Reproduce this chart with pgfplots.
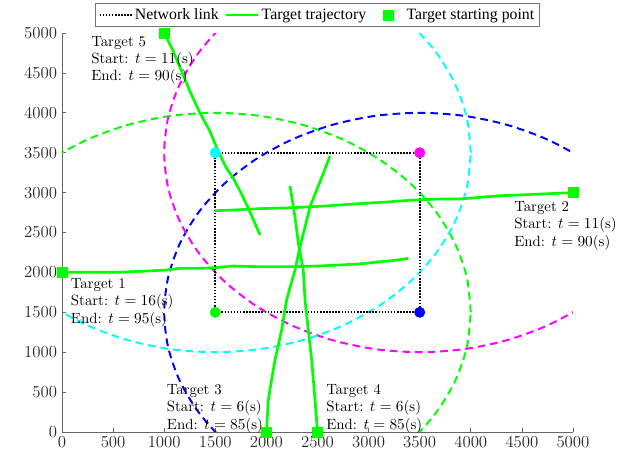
\documentclass[border=0pt]{standalone}
\usepackage{fontspec}
\usepackage{pgfplots}
\pgfplotsset{compat=1.18}
\newfontfamily\legfont{Liberation Serif}
\definecolor{tgreen}{rgb}{0,1,0}
\definecolor{tblue}{rgb}{0,0,1}
\definecolor{tmag}{rgb}{1,0,1}
\definecolor{tcyan}{rgb}{0,1,1}

\begin{document}
\begin{tikzpicture}
\begin{axis}[
    scale only axis,
    width=365pt, height=285pt,
    xmin=0, xmax=5000, ymin=0, ymax=5000,
    xtick={0,500,...,5000}, ytick={0,500,...,5000},
    scaled ticks=false,
    /pgf/number format/1000 sep={},
    axis x line*=bottom, axis y line*=left,
    axis line style={-, black!60, line width=0.5pt},
    tick style={black!60, line width=0.5pt},
    tick align=inside, major tick length=3pt,
    tick label style={font=\large, text=black!85},
    clip mode=individual,
    legend columns=-1,
    legend style={at={(0.5,1)}, anchor=south, yshift=4.3pt,
        draw=black!55, line width=0.6pt, fill=white,
        font=\legfont\fontsize{11.3}{13}\selectfont,
        inner xsep=2pt, inner ysep=2pt,
        nodes={inner sep=1.5pt, text depth=0.15em},
        /tikz/every even column/.append style={column sep=2.8pt}},
    legend image code/.code={\path[draw=none,fill=none] (0pt,0pt) -- (23pt,0pt);
        \draw[mark repeat=2,mark phase=2,#1] plot coordinates {(0pt,0pt) (11.5pt,0pt) (23pt,0pt)};},
    every axis plot/.append style={line join=round},
]

% sensing ranges
\addplot[forget plot, tgreen, line width=1.4pt, dash pattern=on 5.5pt off 3.5pt, smooth] coordinates {
(4000,1500)(3962,1934)(3849,2355)(3665,2750)(3415,3107)(3107,3415)(2750,3665)(2355,3849)(1934,3962)(1500,4000)(1066,3962)(645,3849)(250,3665)(-107,3415)(-415,3107)(-665,2750)(-849,2355)(-962,1934)(-1000,1500)(-962,1066)(-849,645)(-665,250)(-415,-107)(-107,-415)(250,-665)(645,-849)(1066,-962)(1500,-1000)(1934,-962)(2355,-849)(2750,-665)(3107,-415)(3415,-107)(3665,250)(3849,645)(3962,1066)(4000,1500)};
\addplot[forget plot, tblue, line width=1.4pt, dash pattern=on 5.5pt off 3.5pt, smooth] coordinates {
(6000,1500)(5962,1934)(5849,2355)(5665,2750)(5415,3107)(5107,3415)(4750,3665)(4355,3849)(3934,3962)(3500,4000)(3066,3962)(2645,3849)(2250,3665)(1893,3415)(1585,3107)(1335,2750)(1151,2355)(1038,1934)(1000,1500)(1038,1066)(1151,645)(1335,250)(1585,-107)(1893,-415)(2250,-665)(2645,-849)(3066,-962)(3500,-1000)(3934,-962)(4355,-849)(4750,-665)(5107,-415)(5415,-107)(5665,250)(5849,645)(5962,1066)(6000,1500)};
\addplot[forget plot, tmag, line width=1.4pt, dash pattern=on 5.5pt off 3.5pt, smooth] coordinates {
(6000,3500)(5962,3934)(5849,4355)(5665,4750)(5415,5107)(5107,5415)(4750,5665)(4355,5849)(3934,5962)(3500,6000)(3066,5962)(2645,5849)(2250,5665)(1893,5415)(1585,5107)(1335,4750)(1151,4355)(1038,3934)(1000,3500)(1038,3066)(1151,2645)(1335,2250)(1585,1893)(1893,1585)(2250,1335)(2645,1151)(3066,1038)(3500,1000)(3934,1038)(4355,1151)(4750,1335)(5107,1585)(5415,1893)(5665,2250)(5849,2645)(5962,3066)(6000,3500)};
\addplot[forget plot, tcyan, line width=1.4pt, dash pattern=on 5.5pt off 3.5pt, smooth] coordinates {
(4000,3500)(3962,3934)(3849,4355)(3665,4750)(3415,5107)(3107,5415)(2750,5665)(2355,5849)(1934,5962)(1500,6000)(1066,5962)(645,5849)(250,5665)(-107,5415)(-415,5107)(-665,4750)(-849,4355)(-962,3934)(-1000,3500)(-962,3066)(-849,2645)(-665,2250)(-415,1893)(-107,1585)(250,1335)(645,1151)(1066,1038)(1500,1000)(1934,1038)(2355,1151)(2750,1335)(3107,1585)(3415,1893)(3665,2250)(3849,2645)(3962,3066)(4000,3500)};

% network links
\addplot[black, line width=1.4pt, dash pattern=on 1.1pt off 1.1pt] coordinates {
(1500,1500)(3500,1500)(3500,3500)(1500,3500)(1500,1500)};
\addlegendentry{Network link}

% trajectories
\addplot[tgreen, line width=1.9pt] coordinates {
(0,2000)(300,2003)(535,2001)(800,2015)(1024,2030)(1155,2051)(1350,2050)(1497,2059)(1676,2080)(1900,2072)(2264,2072)(2500,2080)(2720,2093)(2950,2110)(3112,2134)(3250,2150)(3389,2176)};
\addlegendentry{Target trajectory}
\addplot[forget plot, tgreen, line width=1.9pt] coordinates {
(5000,3000)(4677,2982)(4286,2961)(3894,2920)(3699,2920)(3438,2907)(3150,2880)(2851,2857)(2550,2830)(2264,2811)(1950,2800)(1676,2782)(1497,2773)};
\addplot[forget plot, tgreen, line width=1.9pt] coordinates {
(2000,0)(2019,401)(2050,650)(2084,902)(2149,1278)(2198,1654)(2240,1850)(2280,2030)(2329,2322)(2380,2580)(2427,2823)(2492,3033)(2560,3250)(2622,3459)};
\addplot[forget plot, tgreen, line width=1.9pt] coordinates {
(2500,0)(2476,401)(2443,902)(2410,1278)(2378,1654)(2361,2030)(2313,2364)(2290,2600)(2264,2823)(2231,3083)};
\addplot[forget plot, tgreen, line width=1.9pt] coordinates {
(1000,5000)(1089,4771)(1171,4520)(1252,4269)(1350,3997)(1448,3768)(1529,3518)(1600,3330)(1676,3179)(1750,3000)(1823,2803)(1880,2640)(1937,2469)};

% sensors
\addplot[forget plot, only marks, mark=*, mark size=3.7pt, tgreen] coordinates {(1500,1500)};
\addplot[forget plot, only marks, mark=*, mark size=3.7pt, tblue] coordinates {(3500,1500)};
\addplot[forget plot, only marks, mark=*, mark size=3.7pt, tmag] coordinates {(3500,3500)};
\addplot[forget plot, only marks, mark=*, mark size=3.7pt, tcyan] coordinates {(1500,3500)};

% starting points
\addplot[only marks, mark=square*, mark size=3.6pt, tgreen]
    coordinates {(0,2000)(5000,3000)(2000,0)(2500,0)(1000,5000)};
\addlegendentry{Target starting point}

\node[anchor=north west, align=left, inner sep=0pt, font=\fontsize{10.6}{12.4}\selectfont] at (axis cs:284,4966) {Target 5\\Start: $t=11$(s)\\End: $t=90$(s)};
\node[anchor=north west, align=left, inner sep=0pt, font=\fontsize{10.6}{12.4}\selectfont] at (axis cs:4423,2895) {Target 2\\Start: $t=11$(s)\\End: $t=90$(s)};
\node[anchor=north west, align=left, inner sep=0pt, font=\fontsize{10.6}{12.4}\selectfont] at (axis cs:85,1926) {Target 1\\Start: $t=16$(s)\\End: $t=95$(s)};
\node[anchor=north west, align=left, inner sep=0pt, font=\fontsize{10.6}{12.4}\selectfont] at (axis cs:1024,598) {Target 3\\Start: $t=6$(s)\\End: $t=85$(s)};
\node[anchor=north west, align=left, inner sep=0pt, font=\fontsize{10.6}{12.4}\selectfont] at (axis cs:2583,598) {Target 4\\Start: $t=6$(s)\\End: $t=85$(s)};
\end{axis}
\pgfresetboundingbox
\path ([xshift=-44.3pt,yshift=-21.4pt]current axis.south west) rectangle ([xshift=43.6pt,yshift=23.6pt]current axis.north east);
\end{tikzpicture}
\end{document}
